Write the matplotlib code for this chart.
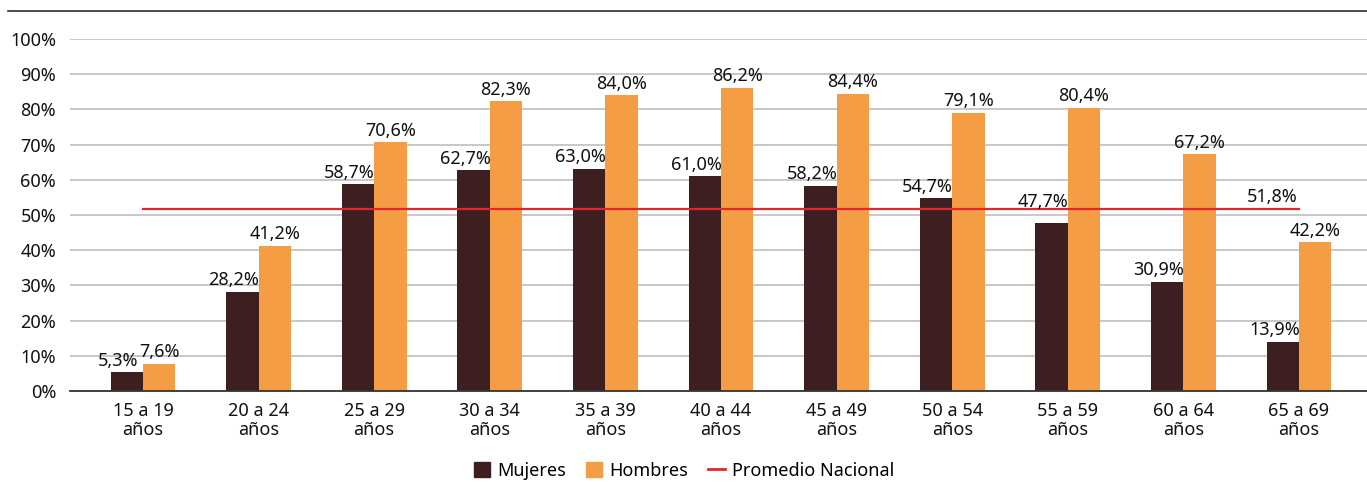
import matplotlib
matplotlib.use("Agg")
import matplotlib.pyplot as plt
from matplotlib.lines import Line2D
from matplotlib.patches import Patch
import numpy as np

categories = ["15 a 19\naños", "20 a 24\naños", "25 a 29\naños", "30 a 34\naños",
              "35 a 39\naños", "40 a 44\naños", "45 a 49\naños", "50 a 54\naños",
              "55 a 59\naños", "60 a 64\naños", "65 a 69\naños"]
mujeres = [5.3, 28.2, 58.7, 62.7, 63.0, 61.0, 58.2, 54.7, 47.7, 30.9, 13.9]
hombres = [7.6, 41.2, 70.6, 82.3, 84.0, 86.2, 84.4, 79.1, 80.4, 67.2, 42.2]
promedio = 51.8
yticks = list(range(0, 101, 10))

c_muj = "#3D1F21"
c_hom = "#F59D45"
c_red = "#E3262B"

plt.rcParams['font.family'] = ['Noto Sans', 'DejaVu Sans']
FS = 13

W, H = 1367, 482
fig = plt.figure(figsize=(W / 100, H / 100), dpi=100)
ax = fig.add_axes([70 / W, 1 - 391 / H, (1367 - 70) / W, (391 - 39) / H])

x = np.arange(len(categories))
bw = 0.28
ax.bar(x - bw / 2, mujeres, bw, color=c_muj, zorder=3)
ax.bar(x + bw / 2, hombres, bw, color=c_hom, zorder=3)
ax.plot([x[0], x[-1]], [promedio, promedio], color=c_red, lw=1.6, zorder=4)

for i, v in enumerate(mujeres):
    extra = 7 if i == 8 else 0
    ax.annotate(f"{v:.1f}%".replace(".", ","), (x[i] - bw / 2, v), xytext=(-6, 2 + extra),
                textcoords="offset points", ha="center", va="bottom", fontsize=FS, color="#111111", zorder=5)
for i, v in enumerate(hombres):
    ax.annotate(f"{v:.1f}%".replace(".", ","), (x[i] + bw / 2, v), xytext=(0, 2),
                textcoords="offset points", ha="center", va="bottom", fontsize=FS, color="#111111", zorder=5)
ax.annotate(f"{promedio:.1f}%".replace(".", ","), (x[-1], promedio), xytext=(-19, 2),
            textcoords="offset points", ha="center", va="bottom", fontsize=FS, color="#111111", zorder=5)

ax.set_xlim(-0.631, 10.588)
ax.set_ylim(0, 100)
ax.set_yticks(yticks)
ax.set_yticklabels([f"{t}%" for t in yticks], fontsize=FS, color="#111111")
ax.set_xticks(x)
ax.set_xticklabels(categories, fontsize=FS, color="#111111", linespacing=1.05)
ax.tick_params(axis="y", length=0, pad=10)
ax.tick_params(axis="x", length=0, pad=8)
ax.yaxis.grid(True, color="#C8C8C8", lw=1.4, zorder=0)
for s in ["top", "right", "left"]:
    ax.spines[s].set_visible(False)
ax.spines["bottom"].set_color("#333333")
ax.spines["bottom"].set_linewidth(1.3)
ax.spines["bottom"].set_zorder(5)

# top rule
fig.add_artist(Line2D([8 / W, 1.0], [1 - 11 / H, 1 - 11 / H], color="#3A2A2A", lw=1.2))

handles = [Patch(color=c_muj, label="Mujeres"), Patch(color=c_hom, label="Hombres"),
           Line2D([], [], color=c_red, lw=2, label="Promedio Nacional")]
fig.legend(handles=handles, loc="center", bbox_to_anchor=(684 / W, 1 - 471 / H), ncol=3,
           frameon=False, fontsize=FS, handlelength=0.9, handleheight=0.9, handletextpad=0.4,
           columnspacing=1.1)

fig.savefig("out.png", dpi=100)
